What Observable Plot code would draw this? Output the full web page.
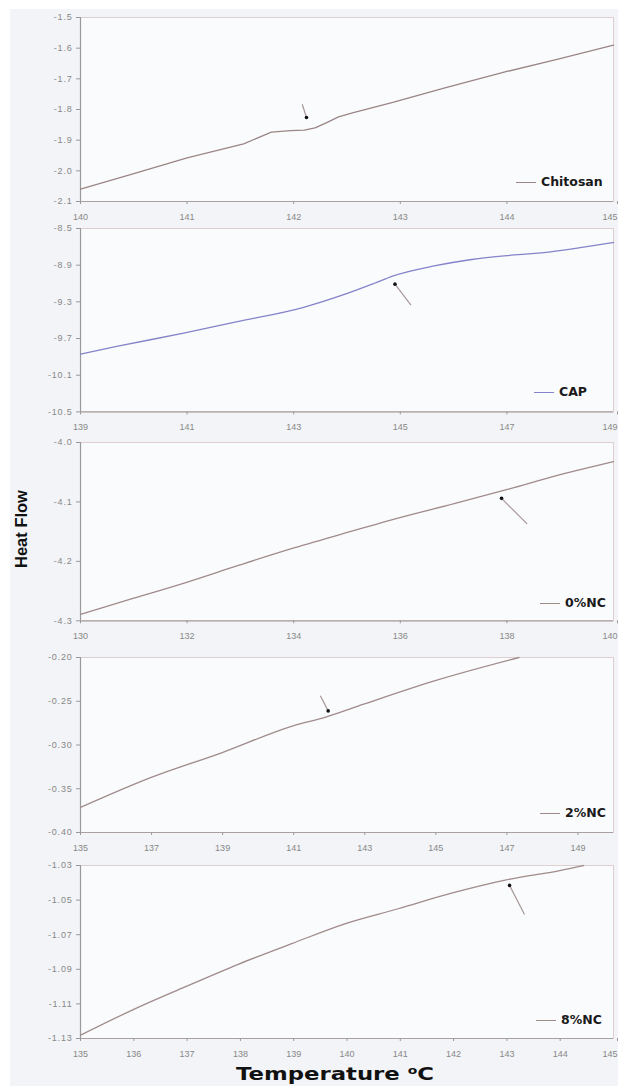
<!DOCTYPE html>
<html><head><meta charset="utf-8">
<script src="https://cdn.jsdelivr.net/npm/d3@7"></script>
<script src="https://cdn.jsdelivr.net/npm/@observablehq/plot@0.6"></script>
<style>
body{margin:0;background:#fff;}
#fig{position:relative;width:618px;height:1086px;overflow:hidden;background:#fff;}
#bg{position:absolute;left:10px;top:9px;width:608px;height:1077px;background:#f2f4f7;}
.panel{position:absolute;left:0;}
.legend{position:absolute;font-family:"DejaVu Sans",sans-serif;font-weight:bold;font-size:12.5px;color:#1a1a1a;white-space:nowrap;line-height:14px;}
.legend .ln{display:inline-block;width:20px;height:0;border-top:1.6px solid;vertical-align:middle;margin-right:5px;}
#ylab{position:absolute;left:21px;top:529px;transform:translate(-50%,-50%) rotate(-90deg);font-family:"Liberation Sans",Arial,sans-serif;font-weight:bold;font-size:16.5px;color:#111;white-space:nowrap;}
#xlab{position:absolute;left:335px;top:1074px;font-family:"DejaVu Sans",sans-serif;font-weight:bold;font-size:18px;color:#111;white-space:nowrap;line-height:20px;}
#xlab sup{font-size:11px;vertical-align:0.55em;line-height:0;}
.tick-y text{letter-spacing:0.8px;}
</style>
</head><body>
<div id="fig"><div id="bg"></div></div>
<script>
// ---------- Data ----------
// Chitosan
const chitosanT  = [140.00,140.50,141.00,141.53,141.68,141.79,141.97,142.10,142.20,142.31,142.42,142.56,142.93,143.41,144.00,144.48,145.00];
const chitosanHF = [-2.060,-2.009,-1.958,-1.912,-1.890,-1.874,-1.869,-1.867,-1.860,-1.843,-1.824,-1.810,-1.777,-1.730,-1.676,-1.636,-1.590];
const chitosanArrowT  = [142.08, 142.12];
const chitosanArrowHF = [-1.783, -1.826];
const chitosanXDomain = [140, 145];
const chitosanXTicks  = [140, 141, 142, 143, 144, 145];
const chitosanYTicks  = [-2.1, -2.0, -1.9, -1.8, -1.7, -1.6, -1.5];

// CAP
const capT  = [139.00,139.70,140.96,141.92,143.17,143.91,144.50,144.87,145.61,146.34,147.08,147.82,148.41,149.00];
const capHF = [-9.871,-9.784,-9.638,-9.518,-9.362,-9.227,-9.100,-9.016,-8.911,-8.838,-8.791,-8.755,-8.707,-8.653];
const capArrowT  = [145.20, 144.90];
const capArrowHF = [-9.336, -9.107];
const capXDomain = [139, 149];
const capXTicks  = [139, 141, 143, 145, 147, 149];
const capYTicks  = [-10.5, -10.1, -9.7, -9.3, -8.9, -8.5];

// 0%NC
const nc0T  = [130.00,131.00,131.96,132.99,134.02,135.02,136.01,137.01,138.01,139.00,140.00];
const nc0HF = [-4.289,-4.262,-4.236,-4.206,-4.177,-4.151,-4.126,-4.103,-4.079,-4.054,-4.032];
const nc0ArrowT  = [138.38, 137.90];
const nc0ArrowHF = [-4.137, -4.094];
const nc0XDomain = [130, 140];
const nc0XTicks  = [130, 132, 134, 136, 138, 140];
const nc0YTicks  = [-4.3, -4.2, -4.1, -4.0];

// 2%NC
const nc2T  = [135.00,136.99,138.99,140.98,141.92,142.97,144.96,147.34];
const nc2HF = [-0.3714,-0.3371,-0.3086,-0.2781,-0.2678,-0.2533,-0.2267,-0.2000];
const nc2ArrowT  = [141.75, 141.97];
const nc2ArrowHF = [-0.2438, -0.2610];
const nc2XDomain = [135, 150];
const nc2XTicks  = [135, 137, 139, 141, 143, 145, 147, 149];
const nc2YTicks  = [-0.40, -0.35, -0.30, -0.25, -0.20];

// 8%NC
const nc8T  = [135.00,135.96,136.96,137.96,138.96,139.96,140.96,141.96,142.99,143.99,144.44];
const nc8HF = [-1.1281,-1.1137,-1.1002,-1.0871,-1.0752,-1.0637,-1.0550,-1.0460,-1.0383,-1.0329,-1.0300];
const nc8ArrowT  = [143.33, 143.05];
const nc8ArrowHF = [-1.0583, -1.0415];
const nc8XDomain = [135, 145];
const nc8XTicks  = [135, 136, 137, 138, 139, 140, 141, 142, 143, 144, 145];
const nc8YTicks  = [-1.13, -1.11, -1.09, -1.07, -1.05, -1.03];

const seriesLabels = ["Chitosan", "CAP", "0%NC", "2%NC", "8%NC"];

// ---------- Layout / style ----------
const panels = [
  {T: chitosanT, HF: chitosanHF, aT: chitosanArrowT, aHF: chitosanArrowHF, xd: chitosanXDomain, xt: chitosanXTicks, yt: chitosanYTicks, dig: 1, color: "#9a8686", top: 16.7, bottom: 200.7, lx: 516, ldy: 19, curve: "linear"},
  {T: capT, HF: capHF, aT: capArrowT, aHF: capArrowHF, xd: capXDomain, xt: capXTicks, yt: capYTicks, dig: 1, color: "#8583c9", top: 228.3, bottom: 411.7, lx: 534, ldy: 20, curve: "monotone-x"},
  {T: nc0T, HF: nc0HF, aT: nc0ArrowT, aHF: nc0ArrowHF, xd: nc0XDomain, xt: nc0XTicks, yt: nc0YTicks, dig: 1, color: "#a08b8b", top: 441.7, bottom: 620, lx: 540, ldy: 17, curve: "monotone-x"},
  {T: nc2T, HF: nc2HF, aT: nc2ArrowT, aHF: nc2ArrowHF, xd: nc2XDomain, xt: nc2XTicks, yt: nc2YTicks, dig: 2, color: "#a08b8b", top: 656.7, bottom: 831.7, lx: 540, ldy: 19, curve: "monotone-x"},
  {T: nc8T, HF: nc8HF, aT: nc8ArrowT, aHF: nc8ArrowHF, xd: nc8XDomain, xt: nc8XTicks, yt: nc8YTicks, dig: 2, color: "#a08b8b", top: 865, bottom: 1038, lx: 536, ldy: 18, curve: "monotone-x"}
];

const fig = document.getElementById("fig");
const MT = 6, MB = 26;

panels.forEach((p, i) => {
  const rows = p.T.map((t, j) => ({t, hf: p.HF[j]}));
  const arrow = [{x1: p.aT[0], y1: p.aHF[0], x2: p.aT[1], y2: p.aHF[1]}];
  const yd = [d3.min(p.yt), d3.max(p.yt)];
  const lastX = p.xt[p.xt.length - 1];
  const edgeTick = lastX === p.xd[1] ? [lastX] : [];
  const innerTicks = p.xt.filter(d => !edgeTick.includes(d));
  const chart = Plot.plot({
    width: 618,
    height: (p.bottom - p.top) + MT + MB,
    marginTop: MT, marginBottom: MB, marginLeft: 80, marginRight: 5,
    style: "background:transparent;overflow:visible;font-family:'Liberation Sans',Arial,sans-serif;",
    x: {domain: p.xd},
    y: {domain: yd},
    marks: [
      Plot.frame({fill: "#fafbfd", stroke: "#dfcfcf", strokeWidth: 1}),
      Plot.ruleX([p.xd[0]], {stroke: "#9a9a9a", strokeWidth: 1.2}),
      Plot.ruleY([yd[0]], {stroke: "#a9a1a1", strokeWidth: 1.2}),
      Plot.axisX({ticks: innerTicks, tickSize: 3, tickPadding: 9, tickFormat: d => String(d), fontSize: 9, color: "#888", label: null, stroke: "#999"}),
      Plot.axisX({ticks: edgeTick, tickSize: 3, tickPadding: 9, tickFormat: d => String(d), fontSize: 9, color: "#888", label: null, stroke: "#999", textAnchor: "end", dx: 4}),
      Plot.axisY({ticks: p.yt, tickSize: 4, tickPadding: 4, tickFormat: d => d.toFixed(p.dig), fontSize: 9, color: "#888", label: null, stroke: "#999", className: "tick-y"}),
      Plot.line(rows, {x: "t", y: "hf", stroke: p.color, strokeWidth: 1.3, curve: p.curve}),
      Plot.link(arrow, {x1: "x1", y1: "y1", x2: "x2", y2: "y2", stroke: "#a89898", strokeWidth: 1.2}),
      Plot.dot(arrow, {x: "x2", y: "y2", r: 1.8, fill: "#111", stroke: null})
    ]
  });
  chart.classList.add("panel");
  chart.style.top = (p.top - MT) + "px";
  chart.style.position = "absolute";
  chart.style.left = "0px";
  fig.appendChild(chart);

  const lg = document.createElement("div");
  lg.className = "legend";
  lg.style.left = p.lx + "px";
  lg.style.top = (p.bottom - p.ldy - 7) + "px";
  lg.innerHTML = `<span class="ln" style="border-color:${p.color}"></span>${seriesLabels[i]}`;
  fig.appendChild(lg);
});

const yl = document.createElement("div");
yl.id = "ylab"; yl.textContent = "Heat Flow";
fig.appendChild(yl);

const xl = document.createElement("div");
xl.id = "xlab"; xl.innerHTML = "Temperature <sup>o</sup>C";
fig.appendChild(xl);
const w = xl.getBoundingClientRect().width;
xl.style.transform = `translate(-50%,-50%) scaleX(${198 / w})`;
</script>
</body></html>
